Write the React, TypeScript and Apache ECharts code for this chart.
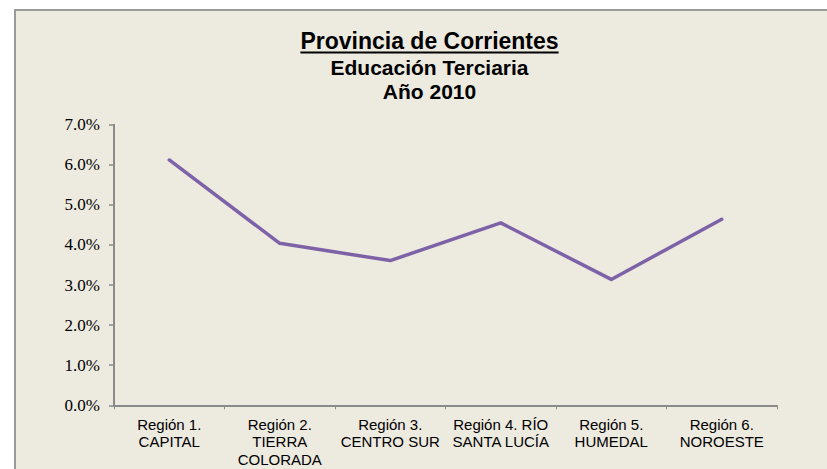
import React, { useEffect, useRef } from "react";
import * as echarts from "echarts";

const titleText = "Provincia de Corrientes";
const subtitleLines = ["Educación Terciaria", "Año 2010"];
const categories = [
  "Región 1.\nCAPITAL",
  "Región 2.\nTIERRA\nCOLORADA",
  "Región 3.\nCENTRO SUR",
  "Región 4. RÍO\nSANTA LUCÍA",
  "Región 5.\nHUMEDAL",
  "Región 6.\nNOROESTE",
];
const values = [6.12, 4.04, 3.61, 4.55, 3.14, 4.64];

const TITLE_FONT = "bold 23px 'Liberation Sans', Arial, sans-serif";

function measure(text: string, font: string): number {
  const c = document.createElement("canvas").getContext("2d");
  if (!c) return text.length * 11;
  c.font = font;
  return c.measureText(text).width;
}

export default function App() {
  const ref = useRef<HTMLDivElement>(null);
  useEffect(() => {
    if (!ref.current) return;
    const chart = echarts.init(ref.current, null, { renderer: "svg" });
    const cx = 413.5;
    const tw = measure(titleText, TITLE_FONT);
    chart.setOption({
      animation: false,
      backgroundColor: "#EDEAE0",
      grid: { left: 98, right: 50, top: 113.7, bottom: 63.7, containLabel: false },
      graphic: [
        {
          type: "text",
          x: cx,
          y: 30,
          style: {
            text: titleText,
            font: TITLE_FONT,
            fill: "#000",
            align: "center",
            verticalAlign: "middle",
          },
        },
        {
          type: "line",
          shape: { x1: cx - tw / 2, y1: 41.5, x2: cx + tw / 2, y2: 41.5 },
          style: { stroke: "#000", lineWidth: 2 },
        },
        ...subtitleLines.map((t, i) => ({
          type: "text",
          x: cx,
          y: 56 + i * 24.5,
          style: {
            text: t,
            font: "bold 21px 'Liberation Sans', Arial, sans-serif",
            fill: "#000",
            align: "center",
            verticalAlign: "middle",
          },
        })),
      ],
      xAxis: {
        type: "category",
        data: categories,
        boundaryGap: true,
        axisLine: { lineStyle: { color: "#8a8a8a", width: 2 } },
        axisTick: { show: true, length: 4, interval: 0, lineStyle: { color: "#8a8a8a", width: 1 } },
        axisLabel: {
          interval: 0,
          margin: 10,
          color: "#000",
          fontFamily: "'Liberation Sans', Arial, sans-serif",
          fontSize: 15,
          lineHeight: 17.5,
        },
        splitLine: { show: false },
      },
      yAxis: {
        type: "value",
        min: 0,
        max: 7,
        interval: 1,
        axisLine: { show: true, lineStyle: { color: "#8a8a8a", width: 2 } },
        axisTick: { show: true, length: 5, lineStyle: { color: "#8a8a8a", width: 1.5 } },
        axisLabel: {
          margin: 14,
          color: "#000",
          fontFamily: "'Liberation Serif', 'Times New Roman', serif",
          fontSize: 17,
          formatter: (v: number) => v.toFixed(1) + "%",
        },
        splitLine: { show: false },
      },
      series: [
        {
          type: "line",
          data: values,
          symbol: "none",
          lineStyle: { color: "#7E62A8", width: 3.5, cap: "round", join: "round" },
        },
      ],
    });
    return () => chart.dispose();
  }, []);
  return (
    <div
      style={{
        position: "fixed",
        left: 0,
        top: 0,
        width: 827,
        height: 469,
        background: "#fff",
        overflow: "hidden",
      }}
    >
      <div
        style={{
          position: "absolute",
          left: 14,
          top: 9,
          width: 813,
          height: 460,
          background: "#9a9a9a",
        }}
      />
      <div
        ref={ref}
        style={{ position: "absolute", left: 16, top: 11, width: 811, height: 458 }}
      />
    </div>
  );
}
